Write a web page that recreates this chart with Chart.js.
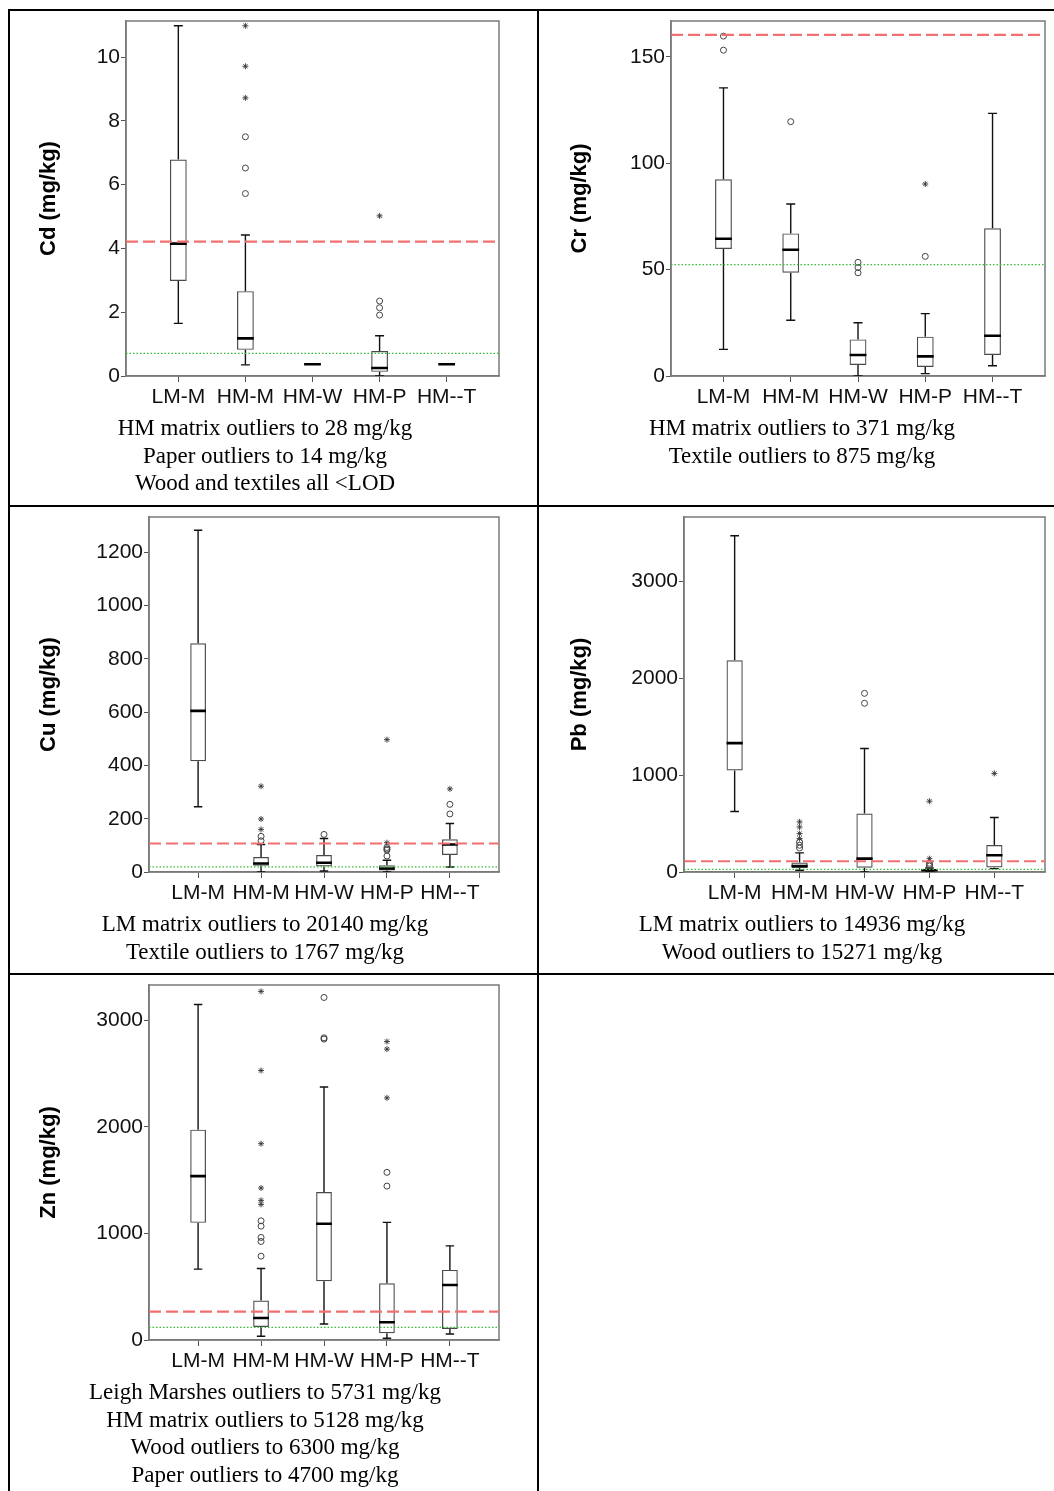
<!DOCTYPE html>
<html>
<head>
<meta charset="utf-8">
<script src="https://cdn.jsdelivr.net/npm/chart.js@4.4.0/dist/chart.umd.min.js"></script>
<style>
body { margin: 0; background: #fff; width: 1054px; height: 1491px; position: relative; overflow: hidden; }
.ln { position: absolute; background: #000; }
canvas { position: absolute; }
.cap { position: absolute; width: 540px; text-align: center; font-family: "Liberation Serif", "Times New Roman", serif;
       font-size: 23px; line-height: 27.7px; color: #000; white-space: nowrap; }
</style>
</head>
<body>
<!-- table rules -->
<div class="ln" style="left:8px;top:9px;width:1046px;height:2px"></div>
<div class="ln" style="left:8px;top:9px;width:2px;height:1482px"></div>
<div class="ln" style="left:537px;top:9px;width:2px;height:1482px"></div>
<div class="ln" style="left:8px;top:505px;width:1046px;height:2px"></div>
<div class="ln" style="left:8px;top:973px;width:1046px;height:2px"></div>

<canvas id="cd" width="499" height="405" style="left:10px;top:11px"></canvas>
<canvas id="cr" width="515" height="405" style="left:539px;top:11px"></canvas>
<canvas id="cu" width="499" height="405" style="left:10px;top:507px"></canvas>
<canvas id="pb" width="515" height="405" style="left:539px;top:507px"></canvas>
<canvas id="zn" width="499" height="405" style="left:10px;top:975px"></canvas>

<div class="cap" id="cap-cd" style="left:-5px;top:414px"></div>
<div class="cap" id="cap-cr" style="left:532px;top:414px"></div>
<div class="cap" id="cap-cu" style="left:-5px;top:910px"></div>
<div class="cap" id="cap-pb" style="left:532px;top:910px"></div>
<div class="cap" id="cap-zn" style="left:-5px;top:1378px"></div>

<script>
var groups = ['LM-M', 'HM-M', 'HM-W', 'HM-P', 'HM--T'];

// Cd
var cdLow  = [1.65, 0.35, 0.37, 0.0, 0.37];
var cdQ1   = [2.98, 0.82, 0.37, 0.13, 0.37];
var cdMed  = [4.15, 1.18, 0.37, 0.25, 0.37];
var cdQ3   = [6.79, 2.66, 0.37, 0.78, 0.37];
var cdHigh = [10.98, 4.42, 0.37, 1.26, 0.37];
var cdCircles = [[], [7.5, 6.52, 5.72], [], [2.35, 2.14, 1.91], []];
var cdStars   = [[], [10.98, 9.71, 8.72], [], [5.02], []];
var cdLimits  = [4.21, 0.71];
var cdTicks   = [0, 2, 4, 6, 8, 10];
var cdCaption = ['HM matrix outliers to 28 mg/kg', 'Paper outliers to 14 mg/kg', 'Wood and textiles all <LOD'];

// Cr
var crLow  = [12.5, 26.2, 0, 1.1, 4.8];
var crQ1   = [59.7, 48.5, 5.2, 4.2, 9.9];
var crMed  = [64.5, 59.3, 9.9, 9.2, 18.9];
var crQ3   = [92.4, 67.0, 17.2, 18.5, 69.4];
var crHigh = [135.4, 80.8, 25.0, 29.3, 123.4];
var crCircles = [[159.7, 153.1], [119.5], [53.4, 51.0, 48.5], [56.2], []];
var crStars   = [[], [], [], [90.2], []];
var crLimits  = [160.3, 52.3];
var crTicks   = [0, 50, 100, 150];
var crCaption = ['HM matrix outliers to 371 mg/kg', 'Textile outliers to 875 mg/kg'];

// Cu
var cuLow  = [245, 0, 4, 0, 19];
var cuQ1   = [416, 23, 21, 6, 64];
var cuMed  = [605, 32, 35, 13, 103];
var cuQ3   = [859, 56, 64, 25, 123];
var cuHigh = [1283, 103, 126, 44, 182];
var cuCircles = [[], [134, 117], [141], [92, 86, 82, 60], [254, 218]];
var cuStars   = [[], [322, 199, 160], [], [497, 110], [312]];
var cuLimits  = [107, 19];
var cuTicks   = [0, 200, 400, 600, 800, 1000, 1200];
var cuCaption = ['LM matrix outliers to 20140 mg/kg', 'Textile outliers to 1767 mg/kg'];

// Pb
var pbLow  = [625, 18, 0, 0, 35];
var pbQ1   = [1049, 41, 45, 11, 46];
var pbMed  = [1331, 62, 138, 18, 173];
var pbQ3   = [2187, 97, 604, 25, 279];
var pbHigh = [3473, 197, 1276, 41, 563];
var pbCircles = [[], [310, 276, 248], [1845, 1742], [90, 75, 62], []];
var pbStars   = [[], [517, 465, 397, 345], [], [731, 138], [1018]];
var pbLimits  = [111, 28];
var pbTicks   = [0, 1000, 2000, 3000];
var pbCaption = ['LM matrix outliers to 14936 mg/kg', 'Wood outliers to 15271 mg/kg'];

// Zn
var znLow  = [665, 35, 150, 16, 56];
var znQ1   = [1100, 122, 552, 63, 103];
var znMed  = [1539, 207, 1091, 166, 517];
var znQ3   = [1975, 370, 1389, 533, 658];
var znHigh = [3150, 671, 2376, 1104, 884];
var znCircles = [[], [1119, 1069, 963, 925, 787], [3216, 2837, 2825], [1574, 1445], []];
var znStars   = [[], [3273, 2530, 1843, 1427, 1311, 1273], [], [2802, 2731, 2273], []];
var znLimits  = [267, 119];
var znTicks   = [0, 1000, 2000, 3000];
var znCaption = ['Leigh Marshes outliers to 5731 mg/kg', 'HM matrix outliers to 5128 mg/kg',
                 'Wood outliers to 6300 mg/kg', 'Paper outliers to 4700 mg/kg'];

var X_MIN = -0.78, X_MAX = 4.78;
var HALF_BOX = 0.125, HALF_CAP = 0.067;
var sans = "'Liberation Sans', Arial, sans-serif";

// grey frame round the plot area, like SPSS
var framePlugin = {
    id: 'frame',
    beforeDatasetsDraw: function (chart) {
        var a = chart.chartArea, c = chart.ctx;
        c.save();
        c.strokeStyle = '#7a7a7a';
        c.lineWidth = 1.5;
        c.strokeRect(a.left, a.top, a.right - a.left, a.bottom - a.top);
        c.restore();
    }
};

function segs(list) {
    // list of [[x,y],[x,y]] pairs -> points with null breaks
    var out = [];
    list.forEach(function (s) {
        out.push({x: s[0][0], y: s[0][1]}, {x: s[1][0], y: s[1][1]}, {x: s[1][0], y: null});
    });
    return out;
}

function boxChart(id, low, q1, med, q3, high, circles, stars, limits, ticks, yMax, title, g) {
    var whisk = [], caps = [], meds = [], circ = [], star = [];
    groups.forEach(function (name, i) {
        whisk.push([[i, low[i]], [i, q1[i]]], [[i, q3[i]], [i, high[i]]]);
        caps.push([[i - HALF_CAP, low[i]], [i + HALF_CAP, low[i]]], [[i - HALF_CAP, high[i]], [i + HALF_CAP, high[i]]]);
        meds.push([[i - HALF_BOX, med[i]], [i + HALF_BOX, med[i]]]);
        circles[i].forEach(function (v) { circ.push({x: i, y: v}); });
        stars[i].forEach(function (v) { star.push({x: i, y: v}); });
    });

    return new Chart(document.getElementById(id).getContext('2d'), {
        type: 'scatter',
        data: {
            datasets: [
                {type: 'line', data: [{x: X_MIN, y: limits[0]}, {x: X_MAX, y: limits[0]}], borderColor: '#f07070',
                    borderWidth: 2.2, borderDash: [12, 5], pointRadius: 0, order: 0},
                {type: 'line', data: [{x: X_MIN, y: limits[1]}, {x: X_MAX, y: limits[1]}], borderColor: '#33c033',
                    borderWidth: 1.3, borderDash: [1.5, 2], pointRadius: 0, order: 1},
                {type: 'line', data: segs(meds), borderColor: '#000', borderWidth: 2.6, pointRadius: 0, order: 2},
                {type: 'scatter', data: star, pointStyle: 'star', pointRadius: 3, borderColor: '#333',
                    borderWidth: 0.9, order: 3},
                {type: 'scatter', data: circ, pointStyle: 'circle', pointRadius: 3, borderColor: '#444',
                    backgroundColor: 'rgba(0,0,0,0)', borderWidth: 1, order: 4},
                {type: 'bar', data: groups.map(function (n, i) { return {x: i, y: [q1[i], q3[i]]}; }),
                    backgroundColor: 'rgba(255,255,255,0)', borderColor: '#4a4a4a', borderWidth: 1.2,
                    borderSkipped: false, barPercentage: 0.25, categoryPercentage: 1, order: 5},
                {type: 'line', data: segs(caps), borderColor: '#111', borderWidth: 1.4, pointRadius: 0, order: 6},
                {type: 'line', data: segs(whisk), borderColor: '#111', borderWidth: 1.4, pointRadius: 0, order: 7}
            ]
        },
        options: {
            responsive: false,
            animation: false,
            layout: {padding: {left: 0, top: g.pt, right: g.pr, bottom: 0}},
            plugins: {legend: {display: false}, tooltip: {enabled: false}},
            scales: {
                x: {
                    type: 'linear', min: X_MIN, max: X_MAX, offset: false,
                    afterBuildTicks: function (s) { s.ticks = groups.map(function (n, i) { return {value: i}; }); },
                    afterFit: function (s) { s.height = 40; s.paddingLeft = 0; s.paddingRight = 0; },
                    ticks: {
                        callback: function (v) { return groups[v]; },
                        color: '#111', font: {family: sans, size: 21}, padding: 3, autoSkip: false, maxRotation: 0
                    },
                    grid: {drawOnChartArea: false, offset: false, tickLength: 6, color: '#555'},
                    border: {color: '#7a7a7a', width: 1.5}
                },
                y: {
                    min: 0, max: yMax,
                    afterBuildTicks: function (s) { s.ticks = ticks.map(function (v) { return {value: v}; }); },
                    afterFit: function (s) { s.width = g.yw; s.paddingTop = 0; s.paddingBottom = 0; },
                    ticks: {callback: function (v) { return String(v); }, color: '#111',
                        font: {family: sans, size: 21}, padding: 1},
                    grid: {drawOnChartArea: false, tickLength: 5, color: '#555'},
                    border: {color: '#7a7a7a', width: 1.5},
                    title: {display: true, text: title, color: '#000', padding: {top: g.tp, bottom: 0},
                        font: {family: sans, size: 22, weight: 'bold'}}
                }
            }
        },
        plugins: [framePlugin]
    });
}

function caption(id, lines) {
    var el = document.getElementById(id);
    lines.forEach(function (t) {
        var d = document.createElement('div');
        d.textContent = t;
        el.appendChild(d);
    });
}

var cd = boxChart('cd', cdLow, cdQ1, cdMed, cdQ3, cdHigh, cdCircles, cdStars, cdLimits, cdTicks, 11.13, 'Cd (mg/kg)',
    {pt: 10, pr: 10, yw: 116, tp: 25.8});
var cr = boxChart('cr', crLow, crQ1, crMed, crQ3, crHigh, crCircles, crStars, crLimits, crTicks, 166.8, 'Cr (mg/kg)',
    {pt: 10, pr: 9, yw: 132, tp: 27.3});
var cu = boxChart('cu', cuLow, cuQ1, cuMed, cuQ3, cuHigh, cuCircles, cuStars, cuLimits, cuTicks, 1333, 'Cu (mg/kg)',
    {pt: 10, pr: 10, yw: 139, tp: 25.8});
var pb = boxChart('pb', pbLow, pbQ1, pbMed, pbQ3, pbHigh, pbCircles, pbStars, pbLimits, pbTicks, 3666, 'Pb (mg/kg)',
    {pt: 10, pr: 9, yw: 145, tp: 27.8});
var zn = boxChart('zn', znLow, znQ1, znMed, znQ3, znHigh, znCircles, znStars, znLimits, znTicks, 3333, 'Zn (mg/kg)',
    {pt: 10, pr: 10, yw: 139, tp: 25.8});

caption('cap-cd', cdCaption);
caption('cap-cr', crCaption);
caption('cap-cu', cuCaption);
caption('cap-pb', pbCaption);
caption('cap-zn', znCaption);
</script>
</body>
</html>
